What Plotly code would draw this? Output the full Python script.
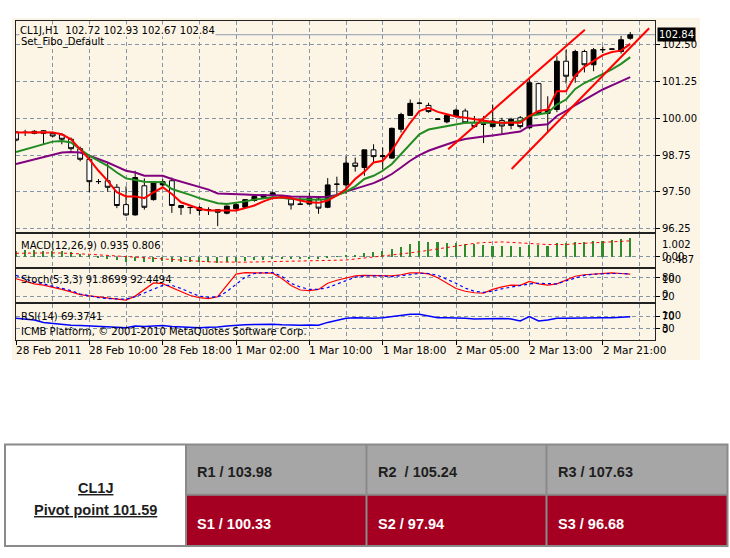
import plotly.graph_objects as go

# ---------------- data ----------------
header_text = "CL1J,H1\u00a0\u00a0102.72 102.93 102.67 102.84"
template_text = "Set_Fibo_Default"
macd_text = "MACD(12,26,9) 0.935 0.806"
stoch_text = "Stoch(5,3,3) 91.8699 92.4494"
rsi_text = "RSI(14) 69.3741"
copyright_text = "ICMB Platform, \u00a9 2001-2010 MetaQuotes Software Corp."

bar_index = list(range(68))
time_label_bars = [0, 8, 16, 24, 32, 40, 48, 56, 64]
time_labels = ["28 Feb 2011", "28 Feb 10:00", "28 Feb 18:00", "1 Mar 02:00", "1 Mar 10:00",
               "1 Mar 18:00", "2 Mar 05:00", "2 Mar 13:00", "2 Mar 21:00"]
grid_bars = list(range(0, 72, 4))

price_ticks = [96.25, 97.50, 98.75, 100.00, 101.25, 102.50]
last_price = 102.84

open_ = [99.54, 99.52, 99.49, 99.58, 99.49, 99.44, 99.29, 98.97, 98.61, 97.85,
         97.88, 97.66, 97.07, 96.72, 97.71, 97.24, 97.74, 97.88, 97.04, 96.97,
         96.97, 96.89, 96.90, 96.78, 96.93, 96.98, 97.21, 97.32, 97.38, 97.32,
         97.29, 97.08, 97.09, 97.26, 96.98, 97.76, 97.74, 98.48, 98.33, 98.93,
         98.70, 98.65, 99.63, 100.10, 100.51, 100.44, 99.97, 99.88, 100.08, 100.25,
         99.85, 99.80, 99.72, 99.93, 99.76, 100.02, 99.68, 101.18, 100.17, 100.30,
         101.94, 101.43, 102.27, 101.82, 102.33, 102.35, 102.27, 102.72]
high = [99.56, 99.61, 99.60, 99.60, 99.55, 99.50, 99.35, 99.04, 98.69, 97.94,
        98.48, 97.77, 97.69, 98.22, 97.96, 97.86, 97.94, 97.99, 97.05, 96.99,
        97.02, 96.98, 96.92, 97.04, 97.13, 97.26, 97.39, 97.43, 97.51, 97.38,
        97.31, 97.35, 97.47, 97.32, 97.97, 98.02, 98.71, 98.67, 98.93, 99.12,
        99.01, 99.69, 100.19, 100.64, 100.55, 100.53, 99.99, 100.13, 100.33, 100.33,
        100.08, 100.08, 100.47, 100.02, 100.02, 100.08, 101.41, 101.21, 100.75, 102.11,
        102.33, 102.33, 102.33, 102.39, 102.44, 102.37, 102.80, 102.93]
low = [99.22, 99.40, 99.46, 99.12, 99.35, 99.12, 98.90, 98.54, 97.49, 97.77,
       97.51, 96.95, 96.68, 96.70, 96.90, 97.21, 97.69, 96.79, 96.72, 96.75,
       96.70, 96.72, 96.34, 96.74, 96.84, 96.96, 97.17, 97.29, 97.35, 97.29,
       96.90, 97.06, 97.06, 96.76, 96.95, 97.43, 97.43, 98.19, 98.05, 98.50,
       98.28, 98.62, 99.52, 100.08, 100.47, 100.19, 99.95, 99.83, 100.02, 99.83,
       99.68, 99.16, 99.69, 99.49, 99.63, 99.65, 99.65, 100.14, 99.52, 100.21,
       101.18, 101.21, 101.56, 101.60, 102.22, 102.33, 102.20, 102.67]
close = [99.26, 99.525, 99.56, 99.49, 99.40, 99.29, 98.97, 98.61, 97.85, 97.855,
         97.66, 97.04, 96.72, 97.99, 96.98, 97.83, 97.85, 97.04, 96.97, 96.975,
         96.87, 96.895, 96.81, 97.02, 97.07, 97.24, 97.35, 97.40, 97.47, 97.325,
         97.06, 97.085, 97.29, 96.95, 97.74, 97.765, 98.48, 98.37, 98.93, 98.70,
         98.73, 99.66, 100.13, 100.51, 100.515, 100.23, 99.975, 100.10, 100.28, 99.85,
         99.72, 99.805, 99.91, 99.74, 99.97, 99.72, 101.21, 100.16, 100.30, 101.94,
         101.43, 102.27, 101.82, 102.33, 102.335, 102.355, 102.67, 102.84]

ma_fast = [99.52, 99.53, 99.54, 99.53, 99.52, 99.46, 99.29, 98.95, 98.61, 98.22,
           97.88, 97.49, 97.35, 97.35, 97.29, 97.49, 97.66, 97.43, 97.15, 97.04,
           96.93, 96.87, 96.87, 96.85, 96.87, 96.95, 97.04, 97.18, 97.29, 97.32,
           97.29, 97.21, 97.15, 97.13, 97.21, 97.38, 97.60, 97.94, 98.19, 98.50,
           98.56, 98.90, 99.40, 99.85, 100.25, 100.36, 100.22, 100.14, 100.06, 100.02,
           99.97, 99.94, 99.88, 99.85, 99.85, 99.85, 100.08, 100.25, 100.30, 100.92,
           100.92, 101.45, 101.75, 101.94, 102.15, 102.25, 102.30, 102.53]
ma_mid = [98.86, 98.95, 99.04, 99.12, 99.21, 99.23, 99.18, 98.95, 98.73, 98.56,
          98.39, 98.16, 97.96, 97.91, 97.85, 97.84, 97.83, 97.60, 97.51, 97.40,
          97.29, 97.20, 97.12, 97.09, 97.13, 97.18, 97.24, 97.28, 97.32, 97.30,
          97.26, 97.25, 97.24, 97.24, 97.26, 97.38, 97.51, 97.69, 97.94, 98.05,
          98.22, 98.45, 98.78, 99.12, 99.46, 99.62, 99.68, 99.74, 99.80, 99.85,
          99.86, 99.85, 99.85, 99.85, 99.86, 99.91, 100.08, 100.14, 100.19, 100.47,
          100.64, 101.00, 101.20, 101.35, 101.50, 101.66, 101.85, 102.08]
ma_slow = [98.45, 98.53, 98.61, 98.70, 98.78, 98.84, 98.86, 98.84, 98.73, 98.62,
           98.50, 98.36, 98.22, 98.16, 98.05, 98.05, 98.05, 97.94, 97.85, 97.75,
           97.66, 97.58, 97.45, 97.43, 97.42, 97.41, 97.40, 97.40, 97.40, 97.38,
           97.35, 97.34, 97.33, 97.33, 97.34, 97.40, 97.51, 97.60, 97.71, 97.80,
           97.94, 98.11, 98.33, 98.56, 98.75, 98.90, 99.01, 99.12, 99.22, 99.30,
           99.35, 99.38, 99.42, 99.46, 99.50, 99.55, 99.74, 99.78, 99.80, 100.08,
           100.25, 100.45, 100.62, 100.80, 100.98, 101.12, 101.25, 101.40]

trend_upper_x = [47.14, 62.05]
trend_upper_y = [98.95, 103.01]
trend_lower_x = [54.06, 69.06]
trend_lower_y = [98.28, 103.06]

macd_main = [0.30, 0.31, 0.31, 0.30, 0.28, 0.26, 0.22, 0.15, 0.05, -0.03,
             -0.10, -0.18, -0.25, -0.24, -0.26, -0.25, -0.22, -0.25, -0.27, -0.28,
             -0.29, -0.29, -0.30, -0.27, -0.25, -0.22, -0.19, -0.16, -0.14, -0.12,
             -0.12, -0.12, -0.11, -0.11, -0.06, -0.02, 0.05, 0.10, 0.18, 0.23,
             0.28, 0.38, 0.50, 0.63, 0.78, 0.76, 0.73, 0.71, 0.68, 0.66,
             0.62, 0.58, 0.55, 0.55, 0.51, 0.50, 0.58, 0.58, 0.55, 0.67,
             0.67, 0.72, 0.75, 0.78, 0.79, 0.84, 0.89, 0.935]
macd_signal = [0.18, 0.19, 0.20, 0.20, 0.20, 0.19, 0.18, 0.16, 0.13, 0.10,
               0.07, 0.04, 0.01, -0.03, -0.06, -0.09, -0.11, -0.13, -0.17, -0.21,
               -0.24, -0.25, -0.26, -0.27, -0.27, -0.27, -0.26, -0.25, -0.24, -0.23,
               -0.22, -0.22, -0.22, -0.22, -0.21, -0.19, -0.16, -0.11, -0.06, -0.02,
               0.02, 0.08, 0.13, 0.20, 0.26, 0.33, 0.42, 0.50, 0.57, 0.62,
               0.68, 0.72, 0.75, 0.75, 0.73, 0.70, 0.67, 0.64, 0.62, 0.62,
               0.62, 0.66, 0.69, 0.72, 0.74, 0.77, 0.79, 0.806]
macd_max, macd_min = 1.002, -0.487

stoch_main = [77, 68, 60, 56, 50, 42, 34, 25, 21, 18,
              14, 10, 7, 20, 42, 63, 61, 48, 35, 22,
              15, 12, 18, 55, 92, 97, 97, 97, 95, 78,
              55, 40, 38, 42, 62, 72, 80, 86, 88, 88,
              87, 86, 90, 96, 96, 93, 80, 62, 45, 36,
              31, 30, 42, 50, 56, 55, 68, 60, 56, 60,
              72, 85, 90, 92, 94, 96, 94, 91.87]
stoch_signal = [88, 78, 66, 60, 53, 47, 38, 27, 20, 15,
                12, 11, 10, 18, 30, 42, 55, 55, 45, 32,
                20, 16, 17, 35, 58, 82, 94, 97, 97, 85,
                62, 50, 42, 42, 48, 60, 72, 82, 86, 87,
                86, 84, 86, 90, 95, 94, 88, 76, 62, 46,
                36, 32, 36, 44, 50, 56, 60, 62, 60, 60,
                70, 80, 88, 92, 94, 94, 94, 92.45]
stoch_levels = [20, 80]

rsi_values = [64, 62, 58, 50, 46, 42, 40, 39, 37, 36,
              35, 33, 32, 38, 36, 38, 39, 36, 34, 33,
              32, 33, 34, 38, 41, 42, 43, 44, 44, 42,
              40, 40, 41, 40, 50, 58, 64, 66, 65, 64,
              66, 70, 74, 78, 78, 72, 66, 66, 66, 64,
              62, 63, 64, 63, 62, 55, 70, 55, 58, 64,
              64, 65, 64, 65, 66, 66, 68, 69.37]
rsi_levels = [30, 70]

pivot_symbol = "CL1J"
pivot_label = "Pivot point 101.59"
resistance_labels = ["R1 / 103.98", "R2\u00a0 / 105.24", "R3 / 107.63"]
support_labels = ["S1 / 100.33", "S2 / 97.94", "S3 / 96.68"]

# ---------------- styling / geometry ----------------
FW, FH = 730, 558
def px(v):
    return v / FW
def py(v):
    return 1 - v / FH

CREAM = "#FCF5E6"
GRID = "#8595A8"
GDASH = "4px,3px"
FRAME = "#222222"
FONT = "DejaVu Sans"
XR = [0, 69.7]
XDOM = [px(16), px(655)]

fig = go.Figure()

# main price panel
fig.add_trace(go.Candlestick(
    x=bar_index, open=open_, high=high, low=low, close=close,
    increasing=dict(line=dict(color="black", width=1), fillcolor="black"),
    decreasing=dict(line=dict(color="black", width=1), fillcolor="white"),
    whiskerwidth=0, xaxis="x", yaxis="y", hoverinfo="skip", showlegend=False))
for ys, col in [(ma_slow, "#800080"), (ma_mid, "#228B22"), (ma_fast, "#FF0000")]:
    fig.add_trace(go.Scatter(x=bar_index, y=ys, mode="lines", line=dict(color=col, width=2),
                             xaxis="x", yaxis="y", hoverinfo="skip", showlegend=False))
for tx, ty in [(trend_upper_x, trend_upper_y), (trend_lower_x, trend_lower_y)]:
    fig.add_trace(go.Scatter(x=tx, y=ty, mode="lines", line=dict(color="#FF0000", width=2),
                             xaxis="x", yaxis="y", hoverinfo="skip", showlegend=False))

# MACD
fig.add_trace(go.Bar(x=bar_index, y=macd_main, width=0.17, marker=dict(color="#2E8B2E", line=dict(width=0)),
                     xaxis="x2", yaxis="y2", hoverinfo="skip", showlegend=False))
fig.add_trace(go.Scatter(x=bar_index, y=macd_signal, mode="lines",
                         line=dict(color="#FF0000", width=1, dash="3px,3px"),
                         xaxis="x2", yaxis="y2", hoverinfo="skip", showlegend=False))
# Stochastic
fig.add_trace(go.Scatter(x=bar_index, y=stoch_main, mode="lines", line=dict(color="#FF0000", width=1.2),
                         xaxis="x3", yaxis="y3", hoverinfo="skip", showlegend=False))
fig.add_trace(go.Scatter(x=bar_index, y=stoch_signal, mode="lines",
                         line=dict(color="#0000FF", width=1.2, dash="3px,3px"),
                         xaxis="x3", yaxis="y3", hoverinfo="skip", showlegend=False))
# RSI
fig.add_trace(go.Scatter(x=bar_index, y=rsi_values, mode="lines", line=dict(color="#0000FF", width=1.5),
                         xaxis="x4", yaxis="y4", hoverinfo="skip", showlegend=False))

def xax(anchor, **kw):
    d = dict(domain=XDOM, range=XR, anchor=anchor, showgrid=True, gridcolor=GRID, griddash=GDASH,
             gridwidth=1, tickvals=grid_bars, showticklabels=False, ticks="", zeroline=False,
             showline=True, mirror=True, linecolor=FRAME, linewidth=1, fixedrange=True)
    d.update(kw)
    return d

def yax(anchor, dom, rng, tv, **kw):
    d = dict(domain=dom, range=rng, anchor=anchor, side="right", tickvals=tv, showticklabels=False,
             ticks="outside", ticklen=4, tickcolor="black", showgrid=True, gridcolor=GRID,
             griddash=GDASH, gridwidth=1, zeroline=False, showline=True, mirror=True,
             linecolor=FRAME, linewidth=1, fixedrange=True)
    d.update(kw)
    return d

fig.update_layout(
    width=FW, height=FH, margin=dict(l=0, r=0, t=0, b=0),
    paper_bgcolor="white", plot_bgcolor=CREAM, showlegend=False,
    boxgap=0.25, boxgroupgap=0.3, bargap=0,
    xaxis=xax("y", rangeslider=dict(visible=False)),
    xaxis2=xax("y2"),
    xaxis3=xax("y3"),
    xaxis4=xax("y4", tickvals=time_label_bars, ticks="outside", ticklen=4, tickcolor="black",
               minor=dict(dtick=4, tick0=0, showgrid=True, gridcolor=GRID, griddash=GDASH, ticks="")),
    yaxis=yax("x", [py(233), py(21)], [96.149, 103.31], price_ticks,
              showticklabels=True, ticktext=["%.2f" % v for v in price_ticks],
              tickfont=dict(family=FONT, size=10, color="black")),
    yaxis2=yax("x2", [py(268), py(235.5)], [-0.49, 1.14], [0]),
    yaxis3=yax("x3", [py(304), py(270.7)], [-0.5, 108], stoch_levels),
    yaxis4=yax("x4", [py(341.7), py(306)], [-10, 112], rsi_levels),
)

shapes = []
# cream terminal background
shapes.append(dict(type="rect", xref="paper", yref="paper", x0=px(12), x1=px(700), y0=py(362), y1=py(18),
                   fillcolor=CREAM, line=dict(width=0), layer="below"))
# last price line
shapes.append(dict(type="line", xref="x domain", yref="y", x0=0, x1=1, y0=last_price, y1=last_price,
                   line=dict(color="#8C9BB0", width=1), layer="below"))

# table
TL, TR, TT, TM, TB = 5, 727.5, 447, 497.5, 549
C1, C2, C3 = 186, 366.5, 546.5
BORDER = "#8A8A8A"
shapes.append(dict(type="rect", xref="paper", yref="paper", x0=px(TL), x1=px(C1), y0=py(TB), y1=py(TT),
                   fillcolor="white", line=dict(width=0)))
shapes.append(dict(type="rect", xref="paper", yref="paper", x0=px(C1), x1=px(TR), y0=py(TM), y1=py(TT),
                   fillcolor="#A6A6A6", line=dict(width=0)))
shapes.append(dict(type="rect", xref="paper", yref="paper", x0=px(C1), x1=px(TR), y0=py(TB), y1=py(TM),
                   fillcolor="#A50021", line=dict(width=0)))
for cx in [C1, C2, C3]:
    shapes.append(dict(type="line", xref="paper", yref="paper", x0=px(cx), x1=px(cx), y0=py(TB), y1=py(TT),
                       line=dict(color=BORDER, width=2)))
shapes.append(dict(type="line", xref="paper", yref="paper", x0=px(C1), x1=px(TR), y0=py(TM), y1=py(TM),
                   line=dict(color=BORDER, width=2)))
shapes.append(dict(type="rect", xref="paper", yref="paper", x0=px(TL), x1=px(TR), y0=py(TB), y1=py(TT),
                   line=dict(color=BORDER, width=2)))
fig.update_layout(shapes=shapes)

ann = []
def txt(text, x, y, xref="paper", yref="paper", xanchor="left", yanchor="middle", size=10,
        color="black", family=FONT, **kw):
    d = dict(text=text, x=x, y=y, xref=xref, yref=yref, xanchor=xanchor, yanchor=yanchor,
             showarrow=False, font=dict(family=family, size=size, color=color))
    d.update(kw)
    ann.append(d)

txt(header_text, px(19), py(31), bgcolor=CREAM, borderpad=0)
txt(template_text, px(19), py(42.5))
txt(macd_text, px(19), py(246.5))
txt(stoch_text, px(19), py(281.5))
txt(rsi_text, px(19), py(318))
txt(copyright_text, px(19), py(333.5))

# last price tag
txt("%.2f" % last_price, px(657), last_price, yref="y", color="white", bgcolor="black", borderpad=1)

# sub-window scale labels
LX = px(660)
txt("%.3f" % macd_max, LX, macd_max, yref="y2", yanchor="top")
txt("0.00", LX, 0, yref="y2")
txt("%.3f" % macd_min, LX, macd_min, yref="y2", yanchor="bottom")
txt("100", LX, 100, yref="y3", yanchor="top")
txt("80", LX, 80, yref="y3")
txt("20", LX, 20, yref="y3")
txt("0", LX, 0, yref="y3", yanchor="bottom")
txt("100", LX, 100, yref="y4", yanchor="top")
txt("70", LX, 70, yref="y4")
txt("30", LX, 30, yref="y4")
txt("0", LX, 0, yref="y4", yanchor="bottom")

# time labels
for b, lab in zip(time_label_bars, time_labels):
    txt(lab, b, py(352), xref="x4", xshift=-2, size=10.5)

# table texts
TFONT = "Liberation Sans"
txt("<b><u>%s</u></b>" % pivot_symbol, px(96), py(490.5), xanchor="center", size=14.5, color="#1E1E1E", family=TFONT)
txt("<b><u>%s</u></b>" % pivot_label, px(96), py(512.5), xanchor="center", size=14.5, color="#1E1E1E", family=TFONT)
for cx, lab in zip([C1, C2, C3], resistance_labels):
    txt("<b>%s</b>" % lab, px(cx + 9), py(475), size=14.5, color="#1E1E1E", family=TFONT)
for cx, lab in zip([C1, C2, C3], support_labels):
    txt("<b>%s</b>" % lab, px(cx + 9), py(527), size=14.5, color="white", family=TFONT)

fig.update_layout(annotations=ann)
fig.write_html("out.html", config={"displayModeBar": False},
               post_script="document.body.style.margin='0';document.body.style.padding='0';")
